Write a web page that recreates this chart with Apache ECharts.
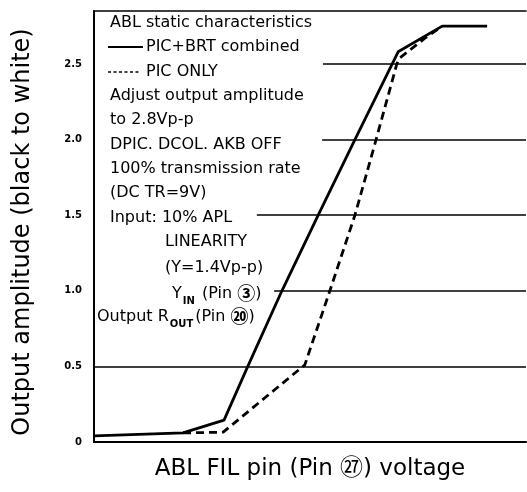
<!DOCTYPE html>
<html><head><meta charset="utf-8">
<script src="https://cdn.jsdelivr.net/npm/echarts@6/dist/echarts.min.js"></script>
<style>html,body{margin:0;padding:0;background:#fff}#c{width:527px;height:492px}</style>
</head><body><div id="c"></div>
<script>
// Y ticks
const yTickValues = [0, 0.5, 1.0, 1.5, 2.0, 2.5];
const yTickLabels = ['0', '0.5', '1.0', '1.5', '2.0', '2.5'];
// X is unlabelled (relative ABL FIL voltage, 0..100)
const solidX = [0, 20.6, 30.1, 35.6, 43.5, 51.9, 60.4, 70.4, 80.6, 91.0];
const solidY = [0.04, 0.06, 0.145, 0.5, 1.0, 1.5, 2.0, 2.58, 2.75, 2.75];
const dashX = [20.6, 29.9, 48.8, 54.6, 60.4, 65.3, 70.1, 70.8, 76.6, 80.6];
const dashY = [0.06, 0.065, 0.51, 1.0, 1.5, 2.0, 2.5, 2.54, 2.67, 2.75];
// reference lines: value and where they start (hidden behind the notes on the left)
const refValues = [0.5, 1.0, 1.5, 2.0, 2.5];
const refStartX = [0, 41.7, 37.7, 52.8, 53.0];

const FONT = '"DejaVu Sans", "Noto Sans CJK JP", sans-serif';
const NF = '16px ' + FONT;
const chart = echarts.init(document.getElementById('c'), null, {renderer: 'canvas'});
const zip = (a, b) => a.map((v, i) => [v, b[i]]);

const noteLines = [
  'ABL static characteristics',
  '',
  '',
  'Adjust output amplitude',
  'to 2.8Vp-p',
  'DPIC. DCOL. AKB OFF',
  '100% transmission rate',
  '(DC TR=9V)',
  'Input: 10% APL'
];
const graphics = [];
noteLines.forEach((t, i) => {
  if (!t) return;
  graphics.push({type: 'text', x: 110, y: 23 + i * 24.3,
    style: {text: t, font: NF, fill: '#000', verticalAlign: 'middle'}});
});
const richSub = {
  m: {font: NF, fill: '#000', verticalAlign: 'bottom'},
  c: {font: 'bold 18px "Noto Sans CJK JP", sans-serif', fill: '#000', verticalAlign: 'bottom', padding: [0, 0, -1, 0]},
  s: {font: 'bold 10px ' + FONT, fill: '#000', verticalAlign: 'bottom', padding: [0, 2, -5, 1]}
};
graphics.push(
  {type: 'line', shape: {x1: 108, y1: 47, x2: 143, y2: 47}, style: {stroke: '#000', lineWidth: 2}},
  {type: 'text', x: 146, y: 47, style: {text: 'PIC+BRT combined', font: NF, fill: '#000', verticalAlign: 'middle'}},
  {type: 'line', shape: {x1: 108, y1: 72, x2: 141, y2: 72}, style: {stroke: '#000', lineWidth: 1.5, lineDash: [3, 2.5]}},
  {type: 'text', x: 146, y: 72, style: {text: 'PIC ONLY', font: NF, fill: '#000', verticalAlign: 'middle'}},
  {type: 'text', x: 165, y: 242, style: {text: 'LINEARITY', font: NF, fill: '#000', verticalAlign: 'middle'}},
  {type: 'text', x: 165, y: 268, style: {text: '(Y=1.4Vp-p)', font: NF, fill: '#000', verticalAlign: 'middle'}},
  {type: 'text', x: 172, y: 293, style: {text: '{m|Y}{s|IN}{m| (Pin }{c|③}{m|)}', rich: richSub,
    align: 'left', verticalAlign: 'middle'}},
  {type: 'text', x: 97, y: 316, style: {text: '{m|Output R}{s|OUT}{m|(Pin }{c|⑳}{m|)}', rich: richSub,
    align: 'left', verticalAlign: 'middle'}},
  {type: 'text', x: 23, y: 232, rotation: Math.PI / 2, style: {
    text: 'Output amplitude (black to white)', font: '24px ' + FONT, fill: '#000',
    align: 'center', verticalAlign: 'middle'}}
);

chart.setOption({
  animation: false,
  backgroundColor: '#fff',
  grid: {left: 94, right: 1, top: 11, bottom: 50},
  xAxis: [{
    type: 'value', min: 0, max: 100, position: 'bottom',
    axisLine: {show: true, lineStyle: {color: '#000', width: 2}},
    axisTick: {show: false}, axisLabel: {show: false}, splitLine: {show: false},
    name: 'ABL FIL pin (Pin ㉗) voltage', nameLocation: 'middle', nameGap: 16,
    nameTextStyle: {fontFamily: FONT, fontSize: 23, color: '#000'}
  }, {
    type: 'value', min: 0, max: 100, position: 'top',
    axisLine: {show: true, lineStyle: {color: '#000', width: 1.5}},
    axisTick: {show: false}, axisLabel: {show: false}, splitLine: {show: false}
  }],
  yAxis: {
    type: 'value', min: 0, max: 2.85, interval: 0.5,
    axisLine: {show: true, lineStyle: {color: '#000', width: 2}},
    axisTick: {show: false}, splitLine: {show: false},
    axisLabel: {margin: 12, color: '#000', fontSize: 10, fontWeight: 'bold', fontFamily: FONT,
      formatter: v => { const i = yTickValues.indexOf(+v.toFixed(2)); return i >= 0 ? yTickLabels[i] : ''; }}
  },
  series: [{
    type: 'line', data: zip(solidX, solidY), symbol: 'none',
    lineStyle: {color: '#000', width: 2.8}, z: 3,
    markLine: {silent: true, symbol: 'none', label: {show: false},
      lineStyle: {color: '#000', width: 1.5, type: 'solid'},
      data: refValues.map((v, i) => [{coord: [refStartX[i], v]}, {coord: [100, v]}])}
  }, {
    type: 'line', data: zip(dashX, dashY), symbol: 'none',
    lineStyle: {color: '#000', width: 2.8, type: [8, 5]}, z: 3
  }],
  graphic: graphics
});
</script></body></html>
